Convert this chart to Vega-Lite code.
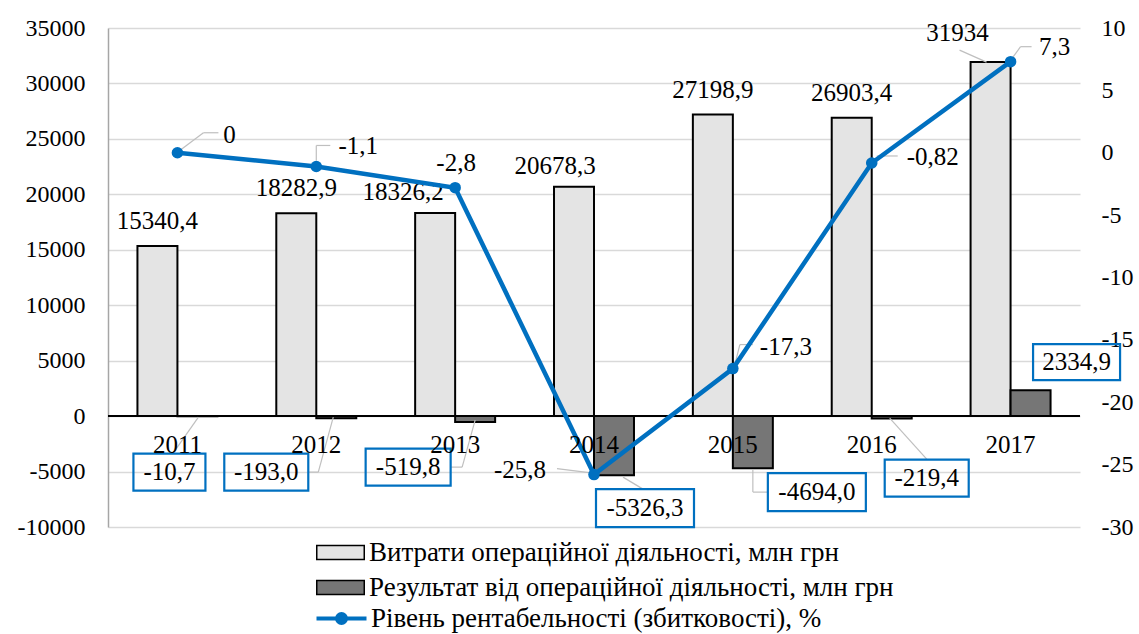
{
  "$schema": "https://vega.github.io/schema/vega-lite/v6.json",
  "width": 972,
  "height": 499,
  "autosize": {"type": "none"},
  "padding": {"left": 108, "top": 28, "right": 59, "bottom": 107},
  "background": "white",
  "data": {
    "values": [
      {"year": "2011", "vytraty": 15340.4, "result": -10.7, "rent": 0},
      {"year": "2012", "vytraty": 18282.9, "result": -193.0, "rent": -1.1},
      {"year": "2013", "vytraty": 18326.2, "result": -519.8, "rent": -2.8},
      {"year": "2014", "vytraty": 20678.3, "result": -5326.3, "rent": -25.8},
      {"year": "2015", "vytraty": 27198.9, "result": -4694.0, "rent": -17.3},
      {"year": "2016", "vytraty": 26903.4, "result": -219.4, "rent": -0.82},
      {"year": "2017", "vytraty": 31934, "result": 2334.9, "rent": 7.3}
    ]
  },
  "config": {
    "locale": {"number": {"decimal": ",", "thousands": " ", "grouping": [3], "currency": ["", ""], "minus": "-"}},
    "view": {"stroke": null},
    "font": "Liberation Serif, Times New Roman, serif",
    "axis": {"labelFont": "Liberation Serif, Times New Roman, serif", "labelColor": "#000000"},
    "legend": {"labelFont": "Liberation Serif, Times New Roman, serif", "labelColor": "#000000"},
    "text": {"font": "Liberation Serif, Times New Roman, serif", "fontSize": 25, "fill": "#000000", "align": "center", "baseline": "middle"},
    "rule": {"color": "#bfbfbf", "strokeWidth": 1.2}
  },
  "encoding": {
    "x": {
      "field": "year", "type": "nominal",
      "scale": {"paddingInner": 0.424, "paddingOuter": 0.212},
      "axis": {"orient": "bottom", "offset": -111, "title": null, "labelAngle": 0, "ticks": false, "domain": false, "grid": false, "labelFontSize": 25, "labelFont": "Liberation Serif, Times New Roman, serif", "labelPadding": 16, "labelColor": "#000000", "zindex": 1}
    }
  },
  "layer": [
    {
      "layer": [
        {
          "transform": [{"fold": ["vytraty", "result"], "as": ["key", "value"]}],
          "mark": {"type": "bar", "stroke": "#000000", "strokeWidth": 2},
          "encoding": {
            "xOffset": {"field": "key", "type": "nominal", "sort": ["vytraty", "result"], "scale": {"domain": ["vytraty", "result"], "paddingInner": 0, "paddingOuter": 0}},
            "y": {
              "field": "value", "type": "quantitative",
              "scale": {"domain": [-10000, 35000], "nice": false, "zero": false},
              "axis": {"orient": "left", "title": null, "values": [-10000, -5000, 0, 5000, 10000, 15000, 20000, 25000, 30000, 35000], "format": "d", "grid": true, "gridColor": "#d9d9d9", "gridWidth": 1.5, "domain": true, "domainColor": "#a6a6a6", "domainWidth": 1.5, "ticks": false, "labelFontSize": 24, "labelFont": "Liberation Serif, Times New Roman, serif", "labelPadding": 23}
            },
            "fill": {
              "field": "key", "type": "nominal",
              "scale": {"domain": ["vytraty", "result"], "range": ["#e4e4e4", "#767676"]},
              "legend": {
                "orient": "none", "legendX": 219, "legendY": 511, "direction": "vertical", "title": null,
                "labelExpr": "datum.value === 'vytraty' ? 'Витрати операційної діяльності, млн грн' : 'Результат від операційної діяльності, млн грн'",
                "symbolType": "M-1.9,-0.56H1.9V0.56H-1.9Z", "symbolSize": 625, "symbolStrokeWidth": 1.5, "symbolStrokeColor": "#000000",
                "labelFontSize": 27, "labelFont": "Liberation Serif, Times New Roman, serif", "labelLimit": 0, "labelOffset": 15, "rowPadding": 7
              }
            }
          }
        },
        {
          "mark": {"type": "rule", "color": "#000000", "strokeWidth": 1.5},
          "encoding": {
            "x": null,
            "y": {"datum": 0, "type": "quantitative", "scale": {"domain": [-10000, 35000], "nice": false, "zero": false}, "axis": {"orient": "left", "title": null, "values": [-10000, -5000, 0, 5000, 10000, 15000, 20000, 25000, 30000, 35000], "format": "d", "grid": true, "gridColor": "#d9d9d9", "gridWidth": 1.5, "domain": true, "domainColor": "#a6a6a6", "domainWidth": 1.5, "ticks": false, "labelFontSize": 24, "labelFont": "Liberation Serif, Times New Roman, serif", "labelPadding": 23}}
          }
        },
        {
          "transform": [{"filter": "indexof(['2011','2012','2015','2016'], datum.year) >= 0"}],
          "mark": {"type": "text", "dx": -20, "dy": -25, "font": "Liberation Serif, Times New Roman, serif", "fontSize": 25},
          "encoding": {
            "y": {"field": "vytraty", "type": "quantitative", "scale": {"domain": [-10000, 35000], "nice": false, "zero": false}, "axis": {"orient": "left", "title": null, "values": [-10000, -5000, 0, 5000, 10000, 15000, 20000, 25000, 30000, 35000], "format": "d", "grid": true, "gridColor": "#d9d9d9", "gridWidth": 1.5, "domain": true, "domainColor": "#a6a6a6", "domainWidth": 1.5, "ticks": false, "labelFontSize": 24, "labelFont": "Liberation Serif, Times New Roman, serif", "labelPadding": 23}},
            "text": {"field": "vytraty", "type": "quantitative", "format": ".1~f"}
          }
        },
        {
          "transform": [{"filter": "datum.year === '2013'"}],
          "mark": {"type": "text", "dx": -52, "dy": -21, "font": "Liberation Serif, Times New Roman, serif", "fontSize": 25},
          "encoding": {
            "y": {"field": "vytraty", "type": "quantitative", "scale": {"domain": [-10000, 35000], "nice": false, "zero": false}, "axis": {"orient": "left", "title": null, "values": [-10000, -5000, 0, 5000, 10000, 15000, 20000, 25000, 30000, 35000], "format": "d", "grid": true, "gridColor": "#d9d9d9", "gridWidth": 1.5, "domain": true, "domainColor": "#a6a6a6", "domainWidth": 1.5, "ticks": false, "labelFontSize": 24, "labelFont": "Liberation Serif, Times New Roman, serif", "labelPadding": 23}},
            "text": {"field": "vytraty", "type": "quantitative", "format": ".1~f"}
          }
        },
        {
          "transform": [{"filter": "datum.year === '2014'"}],
          "mark": {"type": "text", "dx": -39, "dy": -21, "font": "Liberation Serif, Times New Roman, serif", "fontSize": 25},
          "encoding": {
            "y": {"field": "vytraty", "type": "quantitative", "scale": {"domain": [-10000, 35000], "nice": false, "zero": false}, "axis": {"orient": "left", "title": null, "values": [-10000, -5000, 0, 5000, 10000, 15000, 20000, 25000, 30000, 35000], "format": "d", "grid": true, "gridColor": "#d9d9d9", "gridWidth": 1.5, "domain": true, "domainColor": "#a6a6a6", "domainWidth": 1.5, "ticks": false, "labelFontSize": 24, "labelFont": "Liberation Serif, Times New Roman, serif", "labelPadding": 23}},
            "text": {"field": "vytraty", "type": "quantitative", "format": ".1~f"}
          }
        },
        {
          "transform": [{"filter": "datum.year === '2017'"}],
          "mark": {"type": "text", "dx": -53, "dy": -29, "font": "Liberation Serif, Times New Roman, serif", "fontSize": 25},
          "encoding": {
            "y": {"field": "vytraty", "type": "quantitative", "scale": {"domain": [-10000, 35000], "nice": false, "zero": false}, "axis": {"orient": "left", "title": null, "values": [-10000, -5000, 0, 5000, 10000, 15000, 20000, 25000, 30000, 35000], "format": "d", "grid": true, "gridColor": "#d9d9d9", "gridWidth": 1.5, "domain": true, "domainColor": "#a6a6a6", "domainWidth": 1.5, "ticks": false, "labelFontSize": 24, "labelFont": "Liberation Serif, Times New Roman, serif", "labelPadding": 23}},
            "text": {"field": "vytraty", "type": "quantitative", "format": ".1~f"}
          }
        },
        {
          "encoding": {"y": {"datum": 0, "type": "quantitative", "scale": {"domain": [-10000, 35000], "nice": false, "zero": false}, "axis": {"orient": "left", "title": null, "values": [-10000, -5000, 0, 5000, 10000, 15000, 20000, 25000, 30000, 35000], "format": "d", "grid": true, "gridColor": "#d9d9d9", "gridWidth": 1.5, "domain": true, "domainColor": "#a6a6a6", "domainWidth": 1.5, "ticks": false, "labelFontSize": 24, "labelFont": "Liberation Serif, Times New Roman, serif", "labelPadding": 23}}},
          "layer": [
            {"transform": [{"filter": "datum.year === '2011'"}], "mark": {"type": "rule", "xOffset": 21, "yOffset": 1, "x2Offset": -5, "y2Offset": 38}, "encoding": {"x2": {"field": "year", "bandPosition": 0.5}, "y2": {"datum": 0}}},
            {"transform": [{"filter": "datum.year === '2012'"}], "mark": {"type": "rule", "xOffset": 17, "yOffset": 1, "x2Offset": 2, "y2Offset": 56}, "encoding": {"x2": {"field": "year", "bandPosition": 0.5}, "y2": {"datum": 0}}},
            {"transform": [{"filter": "datum.year === '2012'"}], "mark": {"type": "rule", "xOffset": 2, "yOffset": 56, "x2Offset": -8, "y2Offset": 56}, "encoding": {"x2": {"field": "year", "bandPosition": 0.5}, "y2": {"datum": 0}}},
            {"transform": [{"filter": "datum.year === '2013'"}], "mark": {"type": "rule", "xOffset": 20, "yOffset": 4, "x2Offset": 7, "y2Offset": 51}, "encoding": {"x2": {"field": "year", "bandPosition": 0.5}, "y2": {"datum": 0}}},
            {"transform": [{"filter": "datum.year === '2013'"}], "mark": {"type": "rule", "xOffset": 7, "yOffset": 51, "x2Offset": -4, "y2Offset": 51}, "encoding": {"x2": {"field": "year", "bandPosition": 0.5}, "y2": {"datum": 0}}},
            {"transform": [{"filter": "datum.year === '2014'"}], "mark": {"type": "rule", "xOffset": 29, "yOffset": 61, "x2Offset": 49, "y2Offset": 73}, "encoding": {"x2": {"field": "year", "bandPosition": 0.5}, "y2": {"datum": 0}}},
            {"transform": [{"filter": "datum.year === '2015'"}], "mark": {"type": "rule", "xOffset": 20, "yOffset": 53, "x2Offset": 20, "y2Offset": 76}, "encoding": {"x2": {"field": "year", "bandPosition": 0.5}, "y2": {"datum": 0}}},
            {"transform": [{"filter": "datum.year === '2015'"}], "mark": {"type": "rule", "xOffset": 20, "yOffset": 76, "x2Offset": 35, "y2Offset": 76}, "encoding": {"x2": {"field": "year", "bandPosition": 0.5}, "y2": {"datum": 0}}},
            {"transform": [{"filter": "datum.year === '2016'"}], "mark": {"type": "rule", "xOffset": 18, "yOffset": 2, "x2Offset": 55, "y2Offset": 43}, "encoding": {"x2": {"field": "year", "bandPosition": 0.5}, "y2": {"datum": 0}}},
            {"transform": [{"filter": "datum.year === '2017'"}], "mark": {"type": "rule", "xOffset": -51, "yOffset": -366, "x2Offset": -24, "y2Offset": -354}, "encoding": {"x2": {"field": "year", "bandPosition": 0.5}, "y2": {"datum": 0}}},
            {"transform": [{"filter": "datum.year === '2011'"}], "mark": {"type": "point", "shape": "M-0.72,-0.37H0.72V0.37H-0.72Z", "size": 10000, "filled": false, "stroke": "#0070C0", "strokeWidth": 2.2, "opacity": 1, "xOffset": -8, "yOffset": 56}},
            {"transform": [{"filter": "datum.year === '2011'"}], "mark": {"type": "text", "dx": -8, "dy": 56, "font": "Liberation Serif, Times New Roman, serif", "fontSize": 25}, "encoding": {"text": {"field": "result", "type": "quantitative", "format": ".1f"}}},
            {"transform": [{"filter": "datum.year === '2012'"}], "mark": {"type": "point", "shape": "M-0.84,-0.37H0.84V0.37H-0.84Z", "size": 10000, "filled": false, "stroke": "#0070C0", "strokeWidth": 2.2, "opacity": 1, "xOffset": -50, "yOffset": 56}},
            {"transform": [{"filter": "datum.year === '2012'"}], "mark": {"type": "text", "dx": -50, "dy": 56, "font": "Liberation Serif, Times New Roman, serif", "fontSize": 25}, "encoding": {"text": {"field": "result", "type": "quantitative", "format": ".1f"}}},
            {"transform": [{"filter": "datum.year === '2013'"}], "mark": {"type": "point", "shape": "M-0.85,-0.37H0.85V0.37H-0.85Z", "size": 10000, "filled": false, "stroke": "#0070C0", "strokeWidth": 2.2, "opacity": 1, "xOffset": -47, "yOffset": 51}},
            {"transform": [{"filter": "datum.year === '2013'"}], "mark": {"type": "text", "dx": -47, "dy": 51, "font": "Liberation Serif, Times New Roman, serif", "fontSize": 25}, "encoding": {"text": {"field": "result", "type": "quantitative", "format": ".1f"}}},
            {"transform": [{"filter": "datum.year === '2014'"}], "mark": {"type": "point", "shape": "M-0.98,-0.38H0.98V0.38H-0.98Z", "size": 10000, "filled": false, "stroke": "#0070C0", "strokeWidth": 2.2, "opacity": 1, "xOffset": 51, "yOffset": 92}},
            {"transform": [{"filter": "datum.year === '2014'"}], "mark": {"type": "text", "dx": 51, "dy": 92, "font": "Liberation Serif, Times New Roman, serif", "fontSize": 25}, "encoding": {"text": {"field": "result", "type": "quantitative", "format": ".1f"}}},
            {"transform": [{"filter": "datum.year === '2015'"}], "mark": {"type": "point", "shape": "M-0.98,-0.38H0.98V0.38H-0.98Z", "size": 10000, "filled": false, "stroke": "#0070C0", "strokeWidth": 2.2, "opacity": 1, "xOffset": 84, "yOffset": 76}},
            {"transform": [{"filter": "datum.year === '2015'"}], "mark": {"type": "text", "dx": 84, "dy": 76, "font": "Liberation Serif, Times New Roman, serif", "fontSize": 25}, "encoding": {"text": {"field": "result", "type": "quantitative", "format": ".1f"}}},
            {"transform": [{"filter": "datum.year === '2016'"}], "mark": {"type": "point", "shape": "M-0.84,-0.37H0.84V0.37H-0.84Z", "size": 10000, "filled": false, "stroke": "#0070C0", "strokeWidth": 2.2, "opacity": 1, "xOffset": 55, "yOffset": 62}},
            {"transform": [{"filter": "datum.year === '2016'"}], "mark": {"type": "text", "dx": 55, "dy": 62, "font": "Liberation Serif, Times New Roman, serif", "fontSize": 25}, "encoding": {"text": {"field": "result", "type": "quantitative", "format": ".1f"}}},
            {"transform": [{"filter": "datum.year === '2017'"}], "mark": {"type": "point", "shape": "M-0.87,-0.36H0.87V0.36H-0.87Z", "size": 10000, "filled": false, "stroke": "#0070C0", "strokeWidth": 2.2, "opacity": 1, "xOffset": 66, "yOffset": -54}},
            {"transform": [{"filter": "datum.year === '2017'"}], "mark": {"type": "text", "dx": 66, "dy": -54, "font": "Liberation Serif, Times New Roman, serif", "fontSize": 25}, "encoding": {"text": {"field": "result", "type": "quantitative", "format": ".1f"}}}
          ]
        }
      ]
    },
    {
      "encoding": {
        "y": {
          "field": "rent", "type": "quantitative",
          "scale": {"domain": [-30, 10], "nice": false, "zero": false},
          "axis": {"orient": "right", "title": null, "values": [-30, -25, -20, -15, -10, -5, 0, 5, 10], "format": "d", "grid": false, "domain": false, "ticks": false, "labelFontSize": 24, "labelFont": "Liberation Serif, Times New Roman, serif", "labelPadding": 21}
        }
      },
      "layer": [
        {"transform": [{"filter": "datum.year === '2011'"}], "mark": {"type": "rule", "xOffset": 2, "yOffset": -2, "x2Offset": 26, "y2Offset": -20}, "encoding": {"x2": {"field": "year", "bandPosition": 0.5}, "y2": {"field": "rent"}}},
        {"transform": [{"filter": "datum.year === '2011'"}], "mark": {"type": "rule", "xOffset": 26, "yOffset": -20, "x2Offset": 41, "y2Offset": -20}, "encoding": {"x2": {"field": "year", "bandPosition": 0.5}, "y2": {"field": "rent"}}},
        {"transform": [{"filter": "datum.year === '2012'"}], "mark": {"type": "rule", "xOffset": 0, "yOffset": -6, "x2Offset": 0, "y2Offset": -21}, "encoding": {"x2": {"field": "year", "bandPosition": 0.5}, "y2": {"field": "rent"}}},
        {"transform": [{"filter": "datum.year === '2012'"}], "mark": {"type": "rule", "xOffset": 0, "yOffset": -21, "x2Offset": 14, "y2Offset": -21}, "encoding": {"x2": {"field": "year", "bandPosition": 0.5}, "y2": {"field": "rent"}}},
        {"transform": [{"filter": "datum.year === '2014'"}], "mark": {"type": "rule", "xOffset": -37, "yOffset": -6, "x2Offset": -5, "y2Offset": -2}, "encoding": {"x2": {"field": "year", "bandPosition": 0.5}, "y2": {"field": "rent"}}},
        {"transform": [{"filter": "datum.year === '2015'"}], "mark": {"type": "rule", "xOffset": 2, "yOffset": -4, "x2Offset": 7, "y2Offset": -24}, "encoding": {"x2": {"field": "year", "bandPosition": 0.5}, "y2": {"field": "rent"}}},
        {"transform": [{"filter": "datum.year === '2015'"}], "mark": {"type": "rule", "xOffset": 7, "yOffset": -24, "x2Offset": 20, "y2Offset": -24}, "encoding": {"x2": {"field": "year", "bandPosition": 0.5}, "y2": {"field": "rent"}}},
        {"transform": [{"filter": "datum.year === '2016'"}], "mark": {"type": "rule", "xOffset": 5, "yOffset": -7, "x2Offset": 26, "y2Offset": -7}, "encoding": {"x2": {"field": "year", "bandPosition": 0.5}, "y2": {"field": "rent"}}},
        {"transform": [{"filter": "datum.year === '2017'"}], "mark": {"type": "rule", "xOffset": 2, "yOffset": -4, "x2Offset": 10, "y2Offset": -15}, "encoding": {"x2": {"field": "year", "bandPosition": 0.5}, "y2": {"field": "rent"}}},
        {"transform": [{"filter": "datum.year === '2017'"}], "mark": {"type": "rule", "xOffset": 10, "yOffset": -15, "x2Offset": 21, "y2Offset": -15}, "encoding": {"x2": {"field": "year", "bandPosition": 0.5}, "y2": {"field": "rent"}}},
        {
          "transform": [{"fold": ["rent"], "as": ["key", "rentvalue"]}],
          "mark": {"type": "line", "strokeWidth": 4.5},
          "encoding": {
            "stroke": {
              "field": "key", "type": "nominal",
              "scale": {"domain": ["rent"], "range": ["#0070C0"]},
              "legend": {
                "orient": "none", "legendX": 219, "legendY": 576, "title": null,
                "labelExpr": "'Рівень рентабельності (збитковості), %'",
                "symbolType": "M-2,0H2M0.36,0A0.36,0.36,0,1,1,-0.36,0A0.36,0.36,0,1,1,0.36,0Z",
                "symbolSize": 625, "symbolStrokeWidth": 4, "symbolFillColor": "#0070C0",
                "labelFontSize": 27, "labelFont": "Liberation Serif, Times New Roman, serif", "labelLimit": 0, "labelOffset": 15
              }
            }
          }
        },
        {"mark": {"type": "point", "filled": true, "color": "#0070C0", "size": 133, "opacity": 1}},
        {"transform": [{"filter": "datum.year === '2011'"}], "mark": {"type": "text", "dx": 52, "dy": -18, "font": "Liberation Serif, Times New Roman, serif", "fontSize": 25}, "encoding": {"text": {"field": "rent", "type": "quantitative", "format": ".2~f"}}},
        {"transform": [{"filter": "datum.year === '2012'"}], "mark": {"type": "text", "dx": 42, "dy": -20, "font": "Liberation Serif, Times New Roman, serif", "fontSize": 25}, "encoding": {"text": {"field": "rent", "type": "quantitative", "format": ".2~f"}}},
        {"transform": [{"filter": "datum.year === '2013'"}], "mark": {"type": "text", "dx": 1, "dy": -25, "font": "Liberation Serif, Times New Roman, serif", "fontSize": 25}, "encoding": {"text": {"field": "rent", "type": "quantitative", "format": ".2~f"}}},
        {"transform": [{"filter": "datum.year === '2014'"}], "mark": {"type": "text", "dx": -74, "dy": -5, "font": "Liberation Serif, Times New Roman, serif", "fontSize": 25}, "encoding": {"text": {"field": "rent", "type": "quantitative", "format": ".2~f"}}},
        {"transform": [{"filter": "datum.year === '2015'"}], "mark": {"type": "text", "dx": 53, "dy": -22, "font": "Liberation Serif, Times New Roman, serif", "fontSize": 25}, "encoding": {"text": {"field": "rent", "type": "quantitative", "format": ".2~f"}}},
        {"transform": [{"filter": "datum.year === '2016'"}], "mark": {"type": "text", "dx": 61, "dy": -6, "font": "Liberation Serif, Times New Roman, serif", "fontSize": 25}, "encoding": {"text": {"field": "rent", "type": "quantitative", "format": ".2~f"}}},
        {"transform": [{"filter": "datum.year === '2017'"}], "mark": {"type": "text", "dx": 44, "dy": -15, "font": "Liberation Serif, Times New Roman, serif", "fontSize": 25}, "encoding": {"text": {"field": "rent", "type": "quantitative", "format": ".2~f"}}}
      ]
    }
  ],
  "resolve": {"scale": {"y": "independent"}}
}
